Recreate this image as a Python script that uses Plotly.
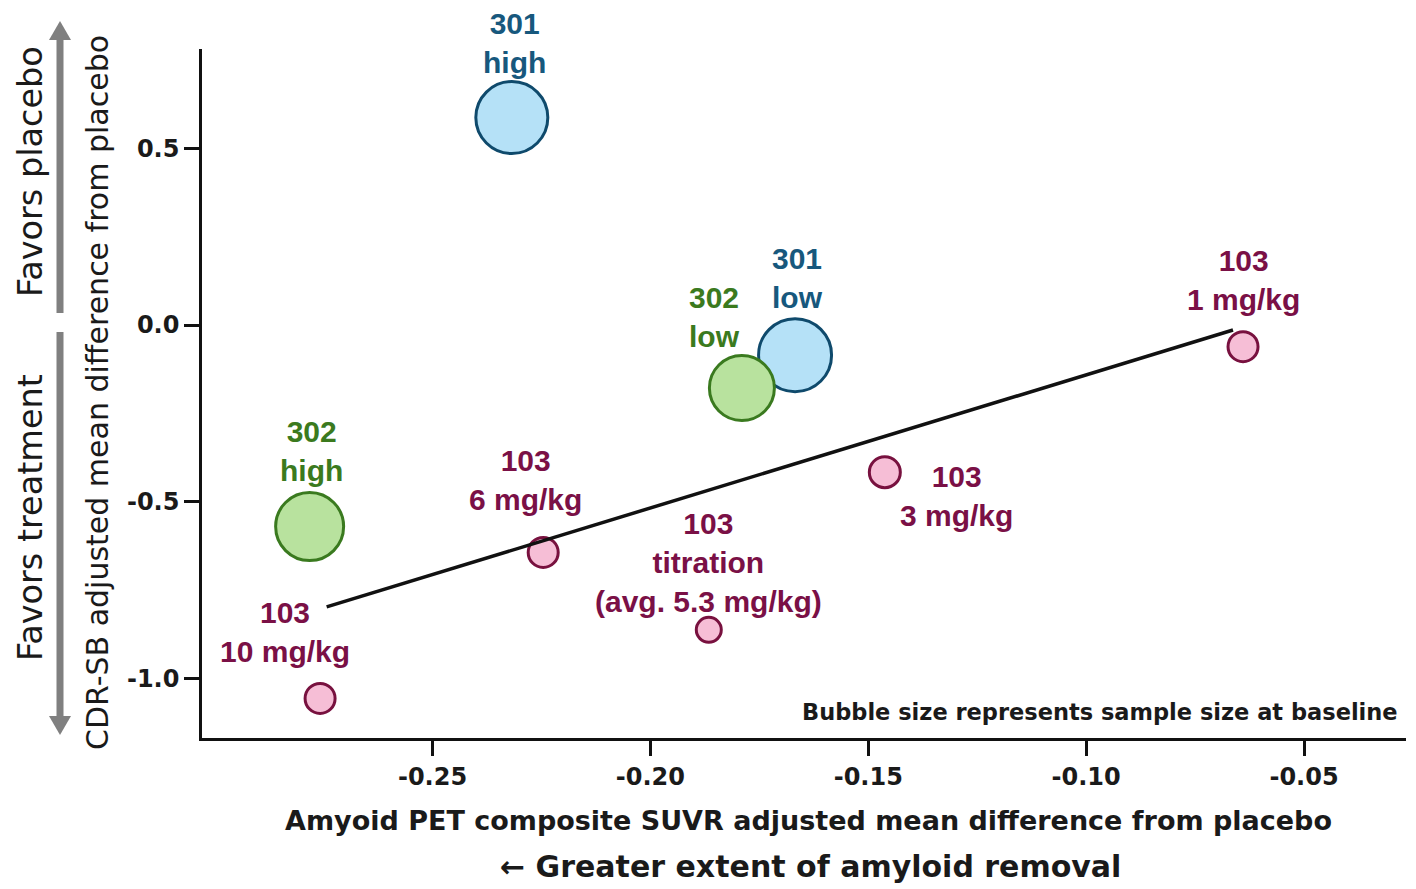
import plotly.graph_objects as go

# ---------------- data ----------------
study301_labels = ["301<br>high", "301<br>low"]
study301_x = [-0.2318, -0.1668]
study301_y = [0.587, -0.085]
study301_size = [72, 73]

study302_labels = ["302<br>low", "302<br>high"]
study302_x = [-0.1790, -0.2782]
study302_y = [-0.178, -0.570]
study302_size = [65, 68]

study103_labels = ["103<br>1 mg/kg", "103<br>3 mg/kg", "103<br>6 mg/kg",
                   "103<br>titration<br>(avg. 5.3 mg/kg)", "103<br>10 mg/kg"]
study103_x = [-0.0640, -0.1462, -0.2246, -0.1866, -0.2758]
study103_y = [-0.061, -0.416, -0.643, -0.862, -1.056]
study103_size = [30, 31, 30, 25, 30]

fit_x = [-0.2743, -0.0663]
fit_y = [-0.797, -0.014]

x_ticks = [-0.25, -0.20, -0.15, -0.10, -0.05]
x_ticklabels = ["-0.25", "-0.20", "-0.15", "-0.10", "-0.05"]
y_ticks = [0.5, 0.0, -0.5, -1.0]
y_ticklabels = ["0.5", "0.0", "-0.5", "-1.0"]

# label offsets (pixels) relative to each bubble
off301 = [(3, 75), (2, 77)]
off302 = [(-27, 71), (2, 76)]
off103 = [(0, 67), (72, -24), (-18, 72), (0, 67), (-35, 66)]

FONT = "Liberation Sans, Arial, sans-serif"
WIDE = "DejaVu Sans, Verdana, sans-serif"
PAGE_OFF = 8  # browser default body margin
W, H = 1416 - PAGE_OFF, 889 - PAGE_OFF
L, R, T, B = 202 - PAGE_OFF, 10, 49 - PAGE_OFF, 151

BLUE_FILL, BLUE_LINE, BLUE_TXT = "#b5e1f7", "#0f4a6c", "#17587d"
GREEN_FILL, GREEN_LINE, GREEN_TXT = "#b8e29e", "#3a7a1f", "#3b7a1e"
PINK_FILL, PINK_LINE, PINK_TXT = "#f6bed6", "#78113f", "#7a1046"

fig = go.Figure()


def bubbles(xs, ys, sizes, fill, line):
    fig.add_trace(go.Scatter(
        x=xs, y=ys, mode="markers", showlegend=False, hoverinfo="skip",
        marker=dict(size=sizes, sizemode="diameter", color=fill,
                    line=dict(color=line, width=3), opacity=1),
    ))


bubbles(study301_x, study301_y, study301_size, BLUE_FILL, BLUE_LINE)
bubbles(study302_x, study302_y, study302_size, GREEN_FILL, GREEN_LINE)
bubbles(study103_x, study103_y, study103_size, PINK_FILL, PINK_LINE)

fig.add_trace(go.Scatter(x=fit_x, y=fit_y, mode="lines", showlegend=False,
                         hoverinfo="skip", line=dict(color="#111111", width=3.5)))

annotations = []


def labels(texts, xs, ys, offs, color):
    for t, x, y, (dx, dy) in zip(texts, xs, ys, offs):
        annotations.append(dict(
            x=x, y=y, xref="x", yref="y", text=t, showarrow=False,
            xshift=dx, yshift=dy, align="center", borderpad=0,
            font=dict(family=FONT, size=30, color=color, weight="bold"),
        ))


labels(study301_labels, study301_x, study301_y, off301, BLUE_TXT)
labels(study302_labels, study302_x, study302_y, off302, GREEN_TXT)
labels(study103_labels, study103_x, study103_y, off103, PINK_TXT)

pw, ph = W - L - R, H - T - B


def px(xp):  # page x pixel -> paper
    return (xp - PAGE_OFF - L) / pw


def py(yp):  # page y pixel -> paper
    return (H - B - (yp - PAGE_OFF)) / ph


annotations += [
    dict(x=px(1400), y=py(712), xref="paper", yref="paper", xanchor="right",
         yanchor="middle", showarrow=False,
         text="Bubble size represents sample size at baseline",
         font=dict(family=WIDE, size=22.5, color="#1a1a1a", weight="bold")),
    dict(x=px(808), y=py(820), xref="paper", yref="paper", xanchor="center",
         yanchor="middle", showarrow=False,
         text="Amyoid PET composite SUVR adjusted mean difference from placebo",
         font=dict(family=WIDE, size=27, color="#1a1a1a", weight="bold")),
    dict(x=px(810), y=py(866), xref="paper", yref="paper", xanchor="center",
         yanchor="middle", showarrow=False,
         text="\u2190 Greater extent of amyloid removal",
         font=dict(family=WIDE, size=30, color="#1a1a1a", weight="bold")),
    dict(x=px(97), y=py(393), xref="paper", yref="paper", xanchor="center",
         yanchor="middle", showarrow=False, textangle=-90,
         text="CDR-SB adjusted mean difference from placebo",
         font=dict(family=WIDE, size=30, color="#1a1a1a")),
    dict(x=px(30), y=py(172), xref="paper", yref="paper", xanchor="center",
         yanchor="middle", showarrow=False, textangle=-90,
         text="Favors placebo",
         font=dict(family=WIDE, size=33.5, color="#1a1a1a")),
    dict(x=px(30), y=py(518), xref="paper", yref="paper", xanchor="center",
         yanchor="middle", showarrow=False, textangle=-90,
         text="Favors treatment",
         font=dict(family=WIDE, size=33.5, color="#1a1a1a")),
]

GRAY = "#808080"
shapes = [
    dict(type="line", xref="paper", yref="paper", x0=px(60), x1=px(60),
         y0=py(313), y1=py(38), line=dict(color=GRAY, width=7)),
    dict(type="path", xref="paper", yref="paper", fillcolor=GRAY,
         line=dict(color=GRAY, width=0),
         path=f"M {px(49)},{py(40)} L {px(71)},{py(40)} L {px(60)},{py(21)} Z"),
    dict(type="line", xref="paper", yref="paper", x0=px(60), x1=px(60),
         y0=py(332), y1=py(718), line=dict(color=GRAY, width=7)),
    dict(type="path", xref="paper", yref="paper", fillcolor=GRAY,
         line=dict(color=GRAY, width=0),
         path=f"M {px(49)},{py(716)} L {px(71)},{py(716)} L {px(60)},{py(735)} Z"),
]

axis_common = dict(showline=True, linecolor="#111111", linewidth=2.5,
                   ticks="outside", ticklen=15, tickwidth=2.5, tickcolor="#111111",
                   showgrid=False, zeroline=False, mirror=False,
                   tickfont=dict(family=WIDE, size=24, color="#1a1a1a", weight="bold"))

fig.update_layout(
    width=W, height=H,
    margin=dict(l=L, r=R, t=T, b=B, pad=0),
    paper_bgcolor="white", plot_bgcolor="white",
    xaxis=dict(range=[-0.3029, -0.0266], tickvals=x_ticks, ticktext=x_ticklabels,
               **axis_common),
    yaxis=dict(range=[-1.168, 0.781], tickvals=y_ticks, ticktext=y_ticklabels,
               **axis_common),
    annotations=annotations,
    shapes=shapes,
)

fig.write_html("out.html")
